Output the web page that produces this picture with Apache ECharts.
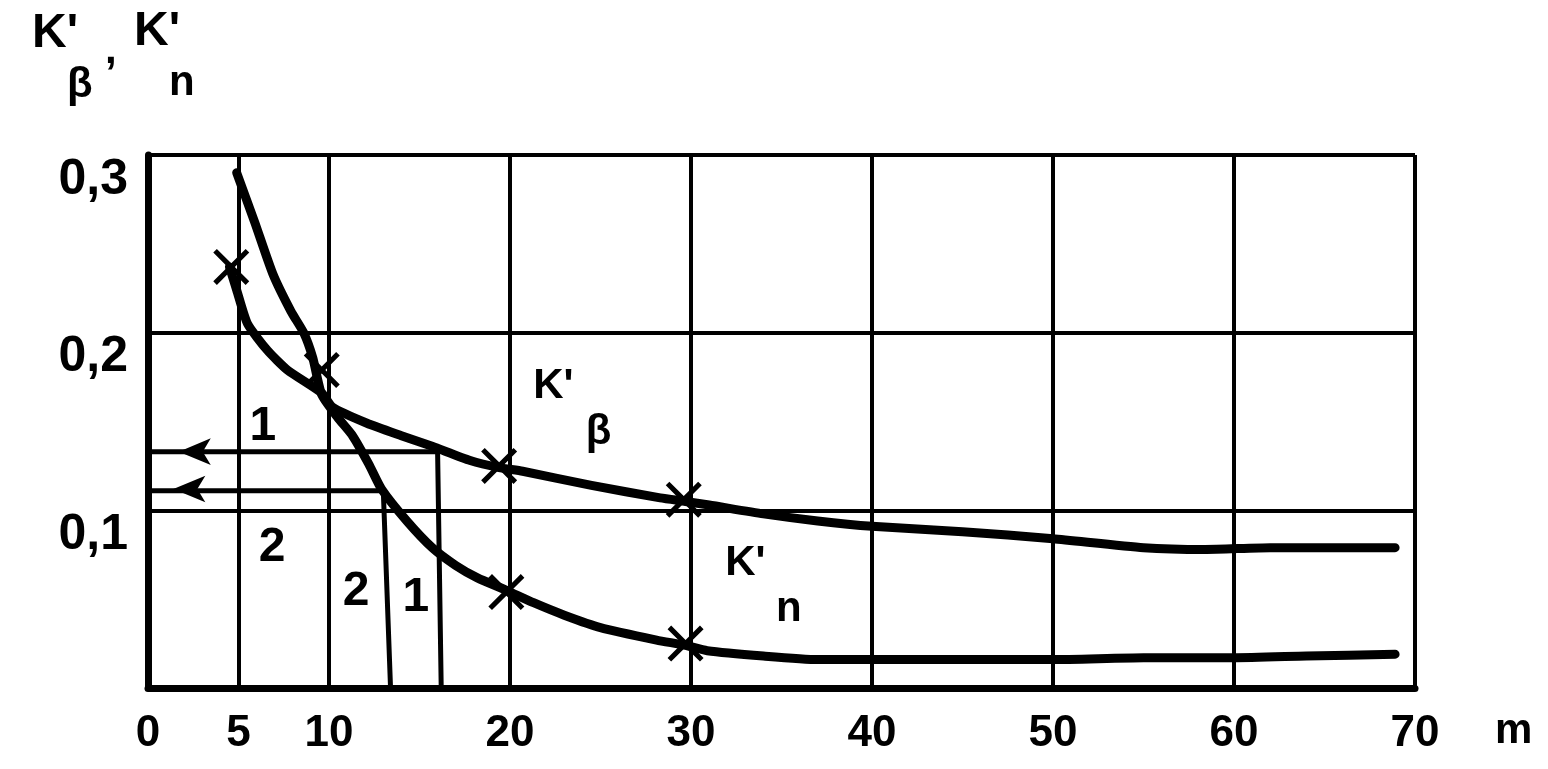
<!DOCTYPE html>
<html><head><meta charset="utf-8">
<script src="https://cdn.jsdelivr.net/npm/echarts@6/dist/echarts.min.js"></script>
<style>html,body{margin:0;padding:0;background:#fff}#c{width:1548px;height:769px}</style>
</head><body><div id="c"></div>
<script>
// ---- data ----
const xTickLabels = ['0', '5', '10', '20', '30', '40', '50', '60', '70'];
const yTickValues = [0.1, 0.2, 0.3];
const xGridValues = [5, 10, 20, 30, 40, 50, 60, 70];

const kBeta = [[4.5,0.237],[4.9,0.224],[5.5,0.205],[6.6,0.19],[7.7,0.179],[9.6,0.166],[10.2,0.158],[12.1,0.149],[14,0.142],[15.7,0.136],[17.8,0.128],[19.4,0.124],[20.7,0.122],[24.5,0.114],[28.3,0.107],[29.7,0.105],[31,0.103],[34,0.098],[37,0.094],[40,0.091],[45,0.088],[50,0.084],[55,0.079],[58.4,0.078],[62,0.079],[68.9,0.079]];
const kN = [[4.9,0.290],[5.9,0.262],[6.9,0.233],[7.9,0.212],[8.6,0.2],[9.1,0.186],[9.6,0.165],[10.5,0.152],[11.3,0.142],[12.2,0.126],[12.9,0.112],[14.3,0.094],[15.7,0.079],[17,0.069],[18.2,0.062],[19.8,0.055],[21.3,0.048],[23,0.041],[25,0.034],[28.1,0.027],[29.7,0.024],[30.9,0.021],[34,0.018],[37,0.016],[40,0.016],[45,0.016],[50,0.016],[55,0.017],[60,0.017],[64,0.018],[68.9,0.019]];

const markBeta = [[4.6,0.237],[9.6,0.179],[19.4,0.125],[29.6,0.106]];
const markN = [[19.8,0.054],[29.7,0.025]];

const readLine1 = [[0,0.133],[16,0.133],[16.2,0]];
const readLine2 = [[0,0.111],[13,0.111],[13.4,0]];
const arrowHeads = [[1.7,0.133],[1.4,0.112]];

const curveLabels = [
  {name:'1', value:[6.35,0.147]},
  {name:'2', value:[6.85,0.079]},
  {name:'2', value:[11.5,0.054]},
  {name:'1', value:[14.8,0.051]}
];
const kLabels = [
  {name:"K'", value:[22.4,0.170]},
  {name:'β', value:[24.9,0.144]},
  {name:"K'", value:[33,0.070]},
  {name:'n', value:[35.4,0.044]}
];

// ---- chart ----
const FONT = 'Liberation Sans';
const crossPath = 'path://M0,2L2,0L10,8L18,0L20,2L12,10L20,18L18,20L10,12L2,20L0,18L8,10Z';
const chart = echarts.init(document.getElementById('c'));

const option = {
  animation: false,
  backgroundColor: '#fff',
  grid: {left: 148, right: 133, top: 155, bottom: 81},
  xAxis: {
    type: 'value', min: 0, max: 70, interval: 5,
    name: 'm', nameLocation: 'end', nameGap: 80,
    nameTextStyle: {fontFamily: FONT, fontWeight: 'bold', fontSize: 42, color: '#000', verticalAlign: 'top', padding: [22, 0, 0, 0]},
    axisLine: {show: true, lineStyle: {color: '#000', width: 7}},
    axisTick: {show: false},
    splitLine: {show: false},
    axisLabel: {
      margin: 24, color: '#000', fontFamily: FONT, fontWeight: 'bold', fontSize: 44,
      formatter: v => xTickLabels.includes(String(v)) ? String(v) : ''
    }
  },
  yAxis: {
    type: 'value', min: 0, max: 0.3, interval: 0.1,
    axisLine: {show: true, lineStyle: {color: '#000', width: 7}},
    axisTick: {show: false},
    splitLine: {show: true, lineStyle: {color: '#000', width: 4}},
    axisLabel: {
      margin: 20, color: '#000', fontFamily: FONT, fontWeight: 'bold', fontSize: 50,
      verticalAlign: 'top',
      formatter: v => yTickValues.some(t => Math.abs(t - v) < 1e-9) ? v.toFixed(1).replace('.', ',') : ''
    }
  },
  graphic: [
    {type: 'text', left: 32, top: 10, style: {text: "K'", font: 'bold 48px ' + FONT, fill: '#000'}},
    {type: 'text', left: 67, top: 64, style: {text: 'β', font: 'bold 42px ' + FONT, fill: '#000'}},
    {type: 'text', left: 105, top: 30, style: {text: ',', font: 'bold 42px ' + FONT, fill: '#000'}},
    {type: 'text', left: 134, top: 8, style: {text: "K'", font: 'bold 48px ' + FONT, fill: '#000'}},
    {type: 'text', left: 169, top: 62, style: {text: 'n', font: 'bold 42px ' + FONT, fill: '#000'}}
  ],
  series: [
    {
      type: 'line', data: [], silent: true, z: 1,
      markLine: {
        silent: true, symbol: 'none', label: {show: false},
        lineStyle: {color: '#000', width: 4, type: 'solid', opacity: 1},
        data: xGridValues.map(v => ({xAxis: v}))
      }
    },
    {type: 'line', data: readLine1, symbol: 'none', lineStyle: {color: '#000', width: 5}, z: 3},
    {type: 'line', data: readLine2, symbol: 'none', lineStyle: {color: '#000', width: 5}, z: 3},
    {type: 'scatter', data: arrowHeads, symbol: 'arrow', symbolRotate: 90, symbolSize: [20, 32], itemStyle: {color: '#000', opacity: 1}, z: 4},
    {type: 'line', data: kBeta, smooth: 0.2, symbol: 'none', lineStyle: {color: '#000', width: 9, cap: 'round', join: 'round'}, z: 5},
    {type: 'line', data: kN, smooth: 0.2, symbol: 'none', lineStyle: {color: '#000', width: 9, cap: 'round', join: 'round'}, z: 5},
    {type: 'scatter', data: markBeta.concat(markN), symbol: crossPath, symbolSize: 36, itemStyle: {color: '#000', opacity: 1}, z: 6},
    {
      type: 'scatter', data: curveLabels, symbolSize: 1, itemStyle: {color: '#fff', opacity: 0}, z: 7,
      label: {show: true, position: 'inside', formatter: '{b}', color: '#000', opacity: 1, fontFamily: FONT, fontWeight: 'bold', fontSize: 48}
    },
    {
      type: 'scatter', data: kLabels, symbolSize: 1, itemStyle: {color: '#fff', opacity: 0}, z: 7,
      label: {show: true, position: 'inside', formatter: '{b}', color: '#000', opacity: 1, fontFamily: FONT, fontWeight: 'bold', fontSize: 42}
    }
  ]
};
chart.setOption(option);
</script>
</body></html>
